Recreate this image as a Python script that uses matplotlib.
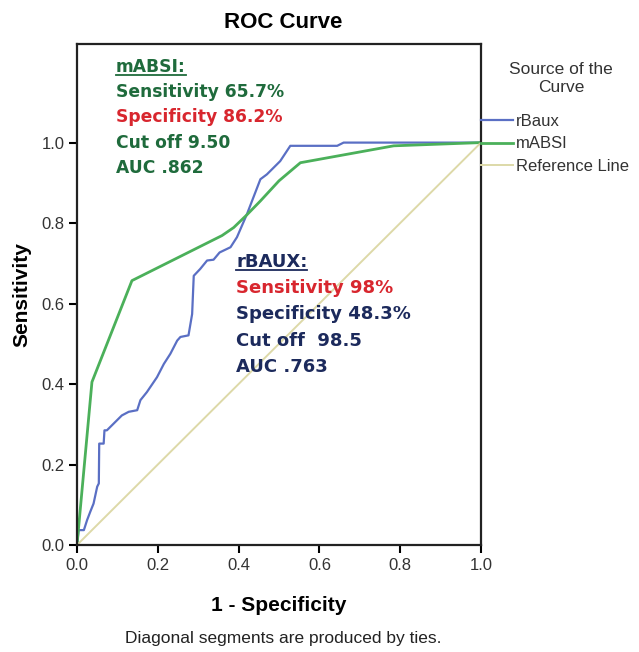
import matplotlib
matplotlib.use('Agg')
import matplotlib.pyplot as plt
from matplotlib.lines import Line2D

# ROC curve points (1 - specificity, sensitivity)
mabsi_fpr = [0.0, 0.037, 0.136, 0.359, 0.388, 0.42, 0.454, 0.50, 0.553, 0.784, 1.0]
mabsi_tpr = [0.0, 0.405, 0.657, 0.769, 0.789, 0.82, 0.855, 0.905, 0.950, 0.992, 1.0]

rbaux_fpr = [0.0, 0.004, 0.017, 0.025, 0.033, 0.041, 0.050, 0.054, 0.055, 0.066, 0.068,
             0.074, 0.091, 0.111, 0.128, 0.149, 0.157, 0.173, 0.198, 0.215, 0.231,
             0.248, 0.256, 0.276, 0.285, 0.289, 0.305, 0.322, 0.338, 0.353, 0.380,
             0.396, 0.421, 0.454, 0.470, 0.503, 0.528, 0.644, 0.660, 1.0]
rbaux_tpr = [0.0, 0.037, 0.037, 0.062, 0.083, 0.103, 0.145, 0.153, 0.252, 0.252, 0.285,
             0.285, 0.302, 0.322, 0.331, 0.335, 0.360, 0.380, 0.417, 0.450, 0.475,
             0.508, 0.517, 0.521, 0.574, 0.669, 0.686, 0.707, 0.709, 0.727, 0.740,
             0.765, 0.823, 0.909, 0.921, 0.954, 0.992, 0.992, 1.0, 1.0]

ref_x = [0.0, 1.0]
ref_y = [0.0, 1.0]

ticks = [0.0, 0.2, 0.4, 0.6, 0.8, 1.0]
tick_labels = ['0.0', '0.2', '0.4', '0.6', '0.8', '1.0']

mabsi_lines = ['mABSI:', 'Sensitivity 65.7%', 'Specificity 86.2%', 'Cut off 9.50', 'AUC .862']
rbaux_lines = ['rBAUX:', 'Sensitivity 98%', 'Specificity 48.3%', 'Cut off  98.5', 'AUC .763']

BLUE = '#5a6fc4'
GREEN = '#4bb05a'
REF = '#ddd9a8'
DK_GREEN = '#1f6b3c'
RED = '#d8262e'
NAVY = '#1c2a5c'

mabsi_colors = [DK_GREEN, DK_GREEN, RED, DK_GREEN, DK_GREEN]
rbaux_colors = [NAVY, RED, NAVY, NAVY, NAVY]

plt.rcParams['font.family'] = ['Liberation Sans', 'DejaVu Sans']

fig = plt.figure(figsize=(6.39, 6.52), dpi=100)
ax = fig.add_axes([0.1205, 0.1641, 0.6322, 0.7684])

ax.plot(rbaux_fpr, rbaux_tpr, color=BLUE, linewidth=1.6, label='rBaux')
ax.plot(mabsi_fpr, mabsi_tpr, color=GREEN, linewidth=2.0, label='mABSI')
ax.plot(ref_x, ref_y, color=REF, linewidth=1.4, label='Reference Line')

ax.set_xlim(0, 1.0)
ax.set_ylim(0, 1.245)
ax.set_xticks(ticks)
ax.set_xticklabels(tick_labels)
ax.set_yticks(ticks)
ax.set_yticklabels(tick_labels)
ax.tick_params(axis='both', direction='out', length=6, width=1.5, labelsize=12,
               labelcolor='#333333', pad=3)
for sp in ax.spines.values():
    sp.set_linewidth(1.6)
    sp.set_color('#222222')

ax.set_xlabel('1 - Specificity', fontsize=15, fontweight='bold', labelpad=17)
ax.set_ylabel('Sensitivity', fontsize=15, fontweight='bold', labelpad=7)
fig.text(0.443, 0.966, 'ROC Curve', ha='center', va='center', fontsize=16, fontweight='bold')
fig.text(0.443, 0.021, 'Diagonal segments are produced by ties.', ha='center', va='center',
         fontsize=12.5, color='#222222')

# annotation blocks
def text_block(x0, y0, lines, colors, step, size):
    texts = []
    for i, (s, c) in enumerate(zip(lines, colors)):
        t = fig.text(x0, y0 - i * step, s, color=c, fontsize=size, fontweight='bold',
                     family='DejaVu Sans', ha='left', va='center')
        texts.append(t)
    return texts

m_texts = text_block(116 / 639, 1 - 67 / 652, mabsi_lines, mabsi_colors, 25.2 / 652, 12.3)
r_texts = text_block(236 / 639, 1 - 262 / 652, rbaux_lines, rbaux_colors, 26.2 / 652, 13)

# underline the block headers
fig.canvas.draw()
renderer = fig.canvas.get_renderer()
for t in (m_texts[0], r_texts[0]):
    bb = t.get_window_extent(renderer).transformed(fig.transFigure.inverted())
    fig.add_artist(Line2D([bb.x0, bb.x1], [bb.y0 + 0.002, bb.y0 + 0.002],
                          transform=fig.transFigure, color=t.get_color(), linewidth=1.3))

# legend
fig.text(561 / 639, 1 - 79 / 652, 'Source of the\nCurve', ha='center', va='center',
         fontsize=12.5, color='#333333', linespacing=1.25)
handles, labels = ax.get_legend_handles_labels()
leg = fig.legend(handles, labels, loc='upper left', bbox_to_anchor=(481 / 639, 1 - 114 / 652),
                 frameon=False, fontsize=12, handlelength=1.9, handletextpad=0.2,
                 labelspacing=0.45, borderpad=0, borderaxespad=0)
for txt in leg.get_texts():
    txt.set_color('#333333')

fig.savefig('out.png', dpi=100)
